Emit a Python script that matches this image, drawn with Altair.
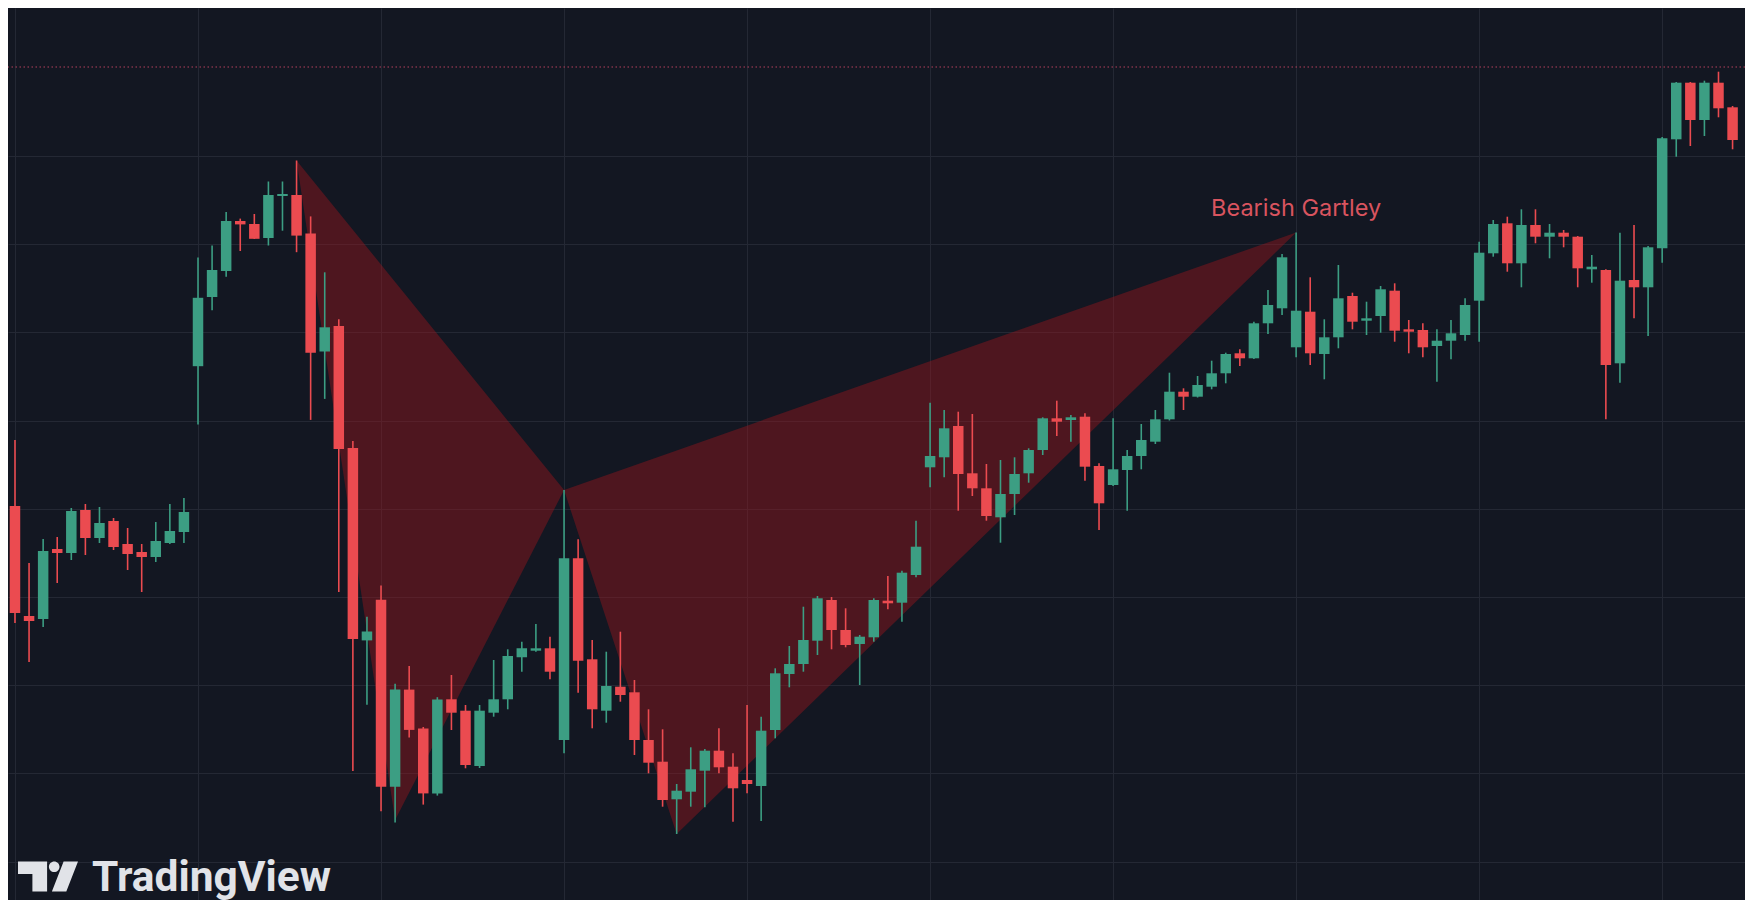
import altair as alt
import numpy as np
import pandas as pd

# ---------------- data (prices) ----------------
opens = [4.94, 3.84, 3.81, 4.51, 4.47, 4.90, 4.62, 4.79, 4.56, 4.48,
         4.43, 4.57, 4.68, 6.338, 7.03, 7.29, 7.79, 7.76, 7.621, 8.04,
         8.05, 7.666, 6.485, 6.74, 5.52, 3.596, 4.003, 2.133, 3.104, 2.715,
         2.066, 3.007, 2.893, 2.34, 2.873, 3.007, 3.427, 3.493, 3.517, 2.60,
         4.417, 3.407, 2.893, 3.133, 3.077, 2.60, 2.383, 2.007, 2.083, 2.293,
         2.493, 2.333, 2.20, 2.14, 2.70, 3.26, 3.36, 3.593, 4.00, 3.70,
         3.56, 3.627, 3.993, 3.973, 4.25, 5.327, 5.427, 5.74, 5.267, 5.117,
         4.827, 5.06, 5.267, 5.50, 5.817, 5.80, 5.833, 5.34, 5.15, 5.30,
         5.44, 5.583, 5.807, 6.083, 6.033, 6.133, 6.267, 6.467, 6.417, 6.767,
         6.917, 6.527, 6.883, 6.46, 6.627, 7.04, 6.793, 6.84, 7.093, 6.707,
         6.70, 6.54, 6.593, 6.65, 6.993, 7.467, 7.767, 7.367, 7.75, 7.633,
         7.673, 7.633, 7.307, 7.30, 6.367, 7.20, 7.127, 7.517, 8.607, 9.173,
         8.80, 9.173, 8.927]
highs = [5.60, 4.37, 4.61, 4.63, 4.92, 4.96, 4.93, 4.82, 4.72, 4.56,
         4.78, 4.96, 5.02, 7.425, 7.545, 7.88, 7.814, 7.86, 8.185, 8.185,
         8.395, 7.836, 7.277, 6.807, 5.59, 3.833, 4.146, 3.162, 3.34, 2.73,
         3.028, 3.25, 2.95, 2.95, 3.40, 3.507, 3.583, 3.76, 3.633, 5.10,
         4.607, 3.60, 3.483, 3.683, 3.20, 2.907, 2.707, 2.16, 2.527, 2.51,
         2.717, 2.467, 2.95, 2.833, 3.317, 3.54, 3.933, 4.04, 4.03, 3.917,
         3.65, 4.017, 4.24, 4.293, 4.793, 5.973, 5.90, 5.883, 5.86, 5.36,
         5.40, 5.427, 5.517, 5.827, 5.993, 5.85, 5.867, 5.367, 5.817, 5.50,
         5.76, 5.90, 6.273, 6.117, 6.24, 6.393, 6.473, 6.507, 6.783, 7.10,
         7.46, 7.675, 7.227, 6.807, 7.35, 7.073, 6.983, 7.14, 7.167, 6.80,
         6.767, 6.707, 6.80, 7.017, 7.583, 7.80, 7.833, 7.907, 7.907, 7.76,
         7.70, 7.64, 7.45, 7.307, 7.673, 7.75, 7.54, 8.63, 9.18, 9.18,
         9.193, 9.283, 8.94]
lows = [3.77, 3.38, 3.73, 4.17, 4.40, 4.45, 4.57, 4.50, 4.30, 4.08,
        4.38, 4.56, 4.57, 5.756, 6.897, 7.232, 7.49, 7.61, 7.545, 7.693,
        7.478, 5.801, 6.011, 4.08, 2.29, 2.952, 1.887, 1.775, 2.625, 1.954,
        2.044, 2.70, 2.317, 2.32, 2.833, 2.907, 3.283, 3.483, 3.207, 2.467,
        3.073, 2.717, 2.773, 2.983, 2.45, 2.267, 1.933, 1.66, 1.933, 1.927,
        2.267, 1.783, 2.067, 1.79, 2.617, 3.127, 3.283, 3.45, 3.507, 3.527,
        3.15, 3.583, 3.907, 3.783, 4.227, 5.127, 5.227, 4.893, 5.04, 4.793,
        4.573, 4.85, 5.173, 5.45, 5.64, 5.583, 5.193, 4.70, 5.14, 4.893,
        5.307, 5.56, 5.795, 5.90, 6.025, 6.107, 6.167, 6.34, 6.41, 6.66,
        6.85, 6.427, 6.35, 6.207, 6.517, 6.707, 6.65, 6.673, 6.583, 6.467,
        6.427, 6.183, 6.407, 6.593, 6.583, 7.433, 7.283, 7.127, 7.567, 7.417,
        7.527, 7.127, 7.173, 5.807, 6.173, 6.817, 6.64, 7.373, 8.433, 8.54,
        8.64, 8.827, 8.507]
closes = [3.87, 3.79, 4.49, 4.47, 4.89, 4.62, 4.77, 4.53, 4.46, 4.43,
          4.59, 4.69, 4.88, 7.022, 7.30, 7.79, 7.756, 7.612, 8.05, 8.06,
          7.644, 6.472, 6.727, 5.51, 3.61, 3.685, 2.133, 3.104, 2.701, 2.066,
          3.005, 2.873, 2.35, 2.893, 3.007, 3.44, 3.517, 3.517, 3.283, 4.417,
          3.393, 2.907, 3.14, 3.05, 2.60, 2.373, 2.00, 2.093, 2.307, 2.493,
          2.327, 2.117, 2.16, 2.693, 3.267, 3.36, 3.60, 4.017, 3.70, 3.55,
          3.633, 4.00, 3.967, 4.273, 4.533, 5.44, 5.717, 5.26, 5.117, 4.84,
          5.06, 5.26, 5.50, 5.817, 5.783, 5.827, 5.333, 4.967, 5.307, 5.44,
          5.60, 5.807, 6.083, 6.033, 6.15, 6.267, 6.46, 6.417, 6.767, 6.95,
          7.427, 6.893, 6.467, 6.627, 7.017, 6.783, 6.817, 7.107, 6.693, 6.683,
          6.527, 6.593, 6.667, 6.95, 7.473, 7.76, 7.367, 7.75, 7.633, 7.673,
          7.633, 7.317, 7.333, 6.35, 7.193, 7.127, 7.527, 8.617, 9.173, 8.80,
          9.173, 8.917, 8.60]

# Gartley pattern vertices X, A, B, C, D (bar index, price)
pattern_names = ["X", "A", "B", "C", "D"]
pattern_bar = [20, 27, 39, 47, 91]
pattern_price = [8.395, 1.80, 5.10, 1.66, 7.675]
pattern_label = "Bearish Gartley"

# alert level (dotted line) and grid positions
alert_level = [9.33]
x_grid = [0, 13, 26, 39, 52, 65, 78, 91, 104, 117]
y_grid = [8.44, 7.558, 6.676, 5.794, 4.912, 4.03, 3.148, 2.266, 1.384]

brand = ["TradingView"]

# ---------------- styles ----------------
BG = "#131722"
GRID = "#242834"
UP = "#3c9e83"
DOWN = "#eb4b50"
FILL = "#a0161c"
LABEL = "#d9545f"
LOGO = "#e1e3e8"

W, H = 1737, 892
x_scale = alt.Scale(domain=[-0.1412, 122.528], nice=False, zero=False)
y_scale = alt.Scale(domain=[1.0, 9.92], nice=False, zero=False)
x_axis = alt.Axis(values=x_grid, grid=True, labels=False, ticks=False,
                  domain=False, title=None, gridColor=GRID, gridWidth=1)
y_axis = alt.Axis(values=y_grid, grid=True, labels=False, ticks=False,
                  domain=False, title=None, gridColor=GRID, gridWidth=1)


def X(f):
    return alt.X(f, scale=x_scale, axis=x_axis)


def Y(f):
    return alt.Y(f, scale=y_scale, axis=y_axis)


candles = pd.DataFrame({"i": list(range(len(opens))), "o": opens,
                        "h": highs, "l": lows, "c": closes})
col = alt.condition("datum.c >= datum.o", alt.value(UP), alt.value(DOWN))

# triangles XAB and BCD of the harmonic pattern
rows = []
for t, (a, b, c) in enumerate([(0, 1, 2), (2, 3, 4)]):
    xa, xb, xc = pattern_bar[a], pattern_bar[b], pattern_bar[c]
    pa, pb, pc = pattern_price[a], pattern_price[b], pattern_price[c]
    mid = float(np.interp(xb, [xa, xc], [pa, pc]))
    rows += [{"tri": t, "i": xa, "lo": pa, "hi": pa},
             {"tri": t, "i": xb, "lo": pb, "hi": mid},
             {"tri": t, "i": xc, "lo": pc, "hi": pc}]
tri_df = pd.DataFrame(rows)

area = alt.Chart(tri_df).mark_area(color=FILL, opacity=0.42, interpolate="linear").encode(
    x=X("i:Q"), y=Y("lo:Q"), y2="hi:Q", detail="tri:N")

dotted = alt.Chart(pd.DataFrame({"p": alert_level})).mark_rule(
    color="#b3405c", strokeWidth=1.2, strokeDash=[1.5, 2.5]).encode(y=Y("p:Q"))

wicks = alt.Chart(candles).mark_rule(strokeWidth=1.6).encode(
    x=X("i:Q"), y=Y("l:Q"), y2="h:Q", color=col)

bodies = alt.Chart(candles).mark_bar(size=10.5).encode(
    x=X("i:Q"), y=Y("o:Q"), y2="c:Q", color=col)

lab_df = pd.DataFrame({"i": [pattern_bar[4]], "p": [pattern_price[4]], "t": [pattern_label]})
label = alt.Chart(lab_df).mark_text(
    dy=-17, baseline="alphabetic", align="center", fontSize=23.5, font="Inter",
    color=LABEL).encode(x=X("i:Q"), y=Y("p:Q"), text="t:N")

brand_df = pd.DataFrame({"t": brand})
logo_path = ("M-1,-0.5 H-0.03 V0.5 H-0.52 V-0.08 H-1 Z "
             "M0.03,-0.323 A0.177,0.177 0 1,0 0.384,-0.323 A0.177,0.177 0 1,0 0.03,-0.323 Z "
             "M0.52,-0.5 L1,-0.5 L0.61,0.5 L0.13,0.5 Z")
logo_icon = alt.Chart(brand_df).mark_point(
    shape=logo_path, filled=True, color=LOGO, opacity=1, size=3600, strokeWidth=0).encode(
    x=alt.value(40), y=alt.value(868.5))
logo_text = alt.Chart(brand_df).mark_text(
    font="Roboto", fontWeight="bold", fontSize=42.5, color=LOGO, align="left",
    baseline="alphabetic").encode(x=alt.value(84), y=alt.value(883), text="t:N")

chart = alt.layer(area, dotted, wicks, bodies, label, logo_icon, logo_text).properties(
    width=W, height=H, background=BG, padding=0, autosize="none"
).configure_view(strokeWidth=0, fill=BG)

chart.save("out.html", embed_options={"renderer": "svg", "actions": False})
